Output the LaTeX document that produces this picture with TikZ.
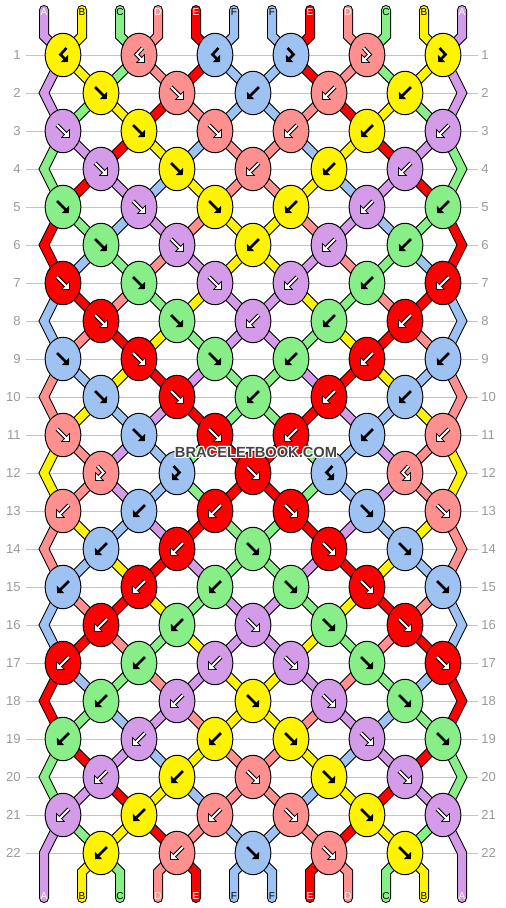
\documentclass[tikz,border=0pt]{standalone}
\usepackage{fontspec}
\setmainfont{Liberation Sans}
\usetikzlibrary{shapes.geometric,arrows.meta}

\definecolor{colA}{HTML}{D49BE8}
\definecolor{colB}{HTML}{FFF400}
\definecolor{colC}{HTML}{88EE88}
\definecolor{colD}{HTML}{FF9090}
\definecolor{colE}{HTML}{FF0000}
\definecolor{colF}{HTML}{9EC2F2}
\definecolor{rulegray}{HTML}{C4C4C4}
\definecolor{numgray}{HTML}{9A9A9A}
\definecolor{markgray}{HTML}{444444}

% ink of arrows and letters on each thread colour
\def\inkA{white}\def\inkB{black}\def\inkC{black}
\def\inkD{white}\def\inkE{white}\def\inkF{black}
\def\whiteink{white}

\pgfdeclarelayer{rules}
\pgfdeclarelayer{threads}
\pgfsetlayers{rules,threads,main}

\tikzset{
	thread/.style={draw=black, line width=0.75pt, double=#1, double distance=6pt, line cap=round, line join=miter},
	knot/.style={ellipse, draw=black, line width=0.75pt, fill=#1, minimum width=26.8pt, minimum height=32.6pt, inner sep=0pt},
	rownum/.style={text=numgray, inner sep=0pt, font=\fontsize{9.8}{10}\selectfont},
	endlabel/.style={inner sep=0pt, font=\fontsize{7.5}{8}\selectfont},
	wmark/.style={inner sep=0pt, font=\fontsize{11}{12}\selectfont\bfseries},
	glyph/.style={black, line width=2pt, -{Triangle[length=3.8pt,width=7.4pt]}},
	glyphrim/.style={black, line width=3pt, shorten >=-0.9pt, -{Triangle[length=4.8pt,width=9.4pt]}},
	glyphcore/.style={white, line width=1.5pt, -{Triangle[length=3.2pt,width=6.2pt]}},
}

% arrow of a knot, kind in \kind
\newcommand\glyphstroke[1]{%
	\if\kind f\draw[#1] (-6,-6) -- (6,6);\fi
	\if\kind b\draw[#1] (6,-6) -- (-6,6);\fi
	\if\kind F\draw[#1] (-3.5,-7) -- (2.5,-0.5) -- (-5,7);\fi
	\if\kind B\draw[#1] (3.5,-7) -- (-2.5,-0.5) -- (5,7);\fi
}

\begin{document}
\begin{tikzpicture}[x=0.75pt, y=-0.75pt]
	\useasboundingbox (0,0) rectangle (506,908);

	% thread ends on top
	\foreach \thr [count=\pos] in {A,B,C,D,E,F,F,E,D,C,B,A} {
		\pgfmathsetmacro\xx{44+38*(\pos-1)}
		\edef\ink{\csname ink\thr\endcsname}
		\coordinate (top-\pos) at (\xx,10);
		\coordinate (topbend-\pos) at (\xx,36);
		\node[endlabel, text=\ink] (toplabel-\pos) at (\xx,12) {\thr};
		\expandafter\xdef\csname th\pos\endcsname{\thr}
		\expandafter\xdef\csname trail\pos\endcsname{(top-\pos) -- (topbend-\pos)}
	}

	% knots row by row: f forward, b backward, F forward-backward, B backward-forward
	\foreach \kinds [count=\row] in {{B,B,B,F,F,F},{f,f,b,b,b},{f,f,f,b,b,b},{f,f,b,b,b},
		{f,f,f,b,b,b},{f,f,b,b,b},{f,f,f,b,b,b},{f,f,b,b,b},{f,f,f,b,b,b},{f,f,b,b,b},
		{f,f,f,b,b,b},{F,F,f,B,B},{b,b,b,f,f,f},{b,b,f,f,f},{b,b,b,f,f,f},{b,b,f,f,f},
		{b,b,b,f,f,f},{b,b,f,f,f},{b,b,b,f,f,f},{b,b,f,f,f},{b,b,b,f,f,f},{b,b,f,f,f}} {
		\pgfmathsetmacro\yy{55+38*(\row-1)}
		\pgfmathtruncatemacro\odd{mod(\row,2)}
		\begin{pgfonlayer}{rules}
			\draw[rulegray, line width=0.75pt] (26,\yy) -- (478,\yy);
		\end{pgfonlayer}
		\node[rownum, anchor=east] (numl-\row) at (21,\yy) {\row};
		\node[rownum, anchor=west] (numr-\row) at (481,\yy) {\row};
		\ifnum\odd=0
			\coordinate (edge-\row-1) at (44,\yy);
			\coordinate (edge-\row-12) at (462,\yy);
			\expandafter\xdef\csname trail1\endcsname{\csname trail1\endcsname\space -- (edge-\row-1)}
			\expandafter\xdef\csname trail12\endcsname{\csname trail12\endcsname\space -- (edge-\row-12)}
		\fi
		\foreach \kind [count=\kn] in \kinds {
			\pgfmathtruncatemacro\jl{\odd==1 ? 2*\kn-1 : 2*\kn}
			\pgfmathtruncatemacro\jr{\jl+1}
			\pgfmathsetmacro\xx{63+38*(\jl-1)}
			\edef\lc{\csname th\jl\endcsname}
			\edef\rc{\csname th\jr\endcsname}
			\if\kind b\edef\kc{\rc}\else\if\kind B\edef\kc{\rc}\else\edef\kc{\lc}\fi\fi
			\edef\ink{\csname ink\kc\endcsname}
			\node[knot=col\kc] (k-\row-\kn) at (\xx,\yy) {};
			\begin{pgfonlayer}{threads}
				\edef\tmp{\noexpand\draw[thread=col\lc] \csname trail\jl\endcsname\space -- (k-\row-\kn.center);
					\noexpand\draw[thread=col\rc] \csname trail\jr\endcsname\space -- (k-\row-\kn.center);}
				\tmp
			\end{pgfonlayer}
			\expandafter\xdef\csname trail\jl\endcsname{(k-\row-\kn.center)}
			\expandafter\xdef\csname trail\jr\endcsname{(k-\row-\kn.center)}
			\if\kind f\def\doswap{1}\else\if\kind b\def\doswap{1}\else\def\doswap{0}\fi\fi
			\ifnum\doswap=1
				\expandafter\xdef\csname th\jl\endcsname{\rc}
				\expandafter\xdef\csname th\jr\endcsname{\lc}
			\fi
			\begin{scope}[shift={(k-\row-\kn.center)}]
				\ifx\ink\whiteink
					\glyphstroke{glyphrim}\glyphstroke{glyphcore}
				\else
					\glyphstroke{glyph}
				\fi
			\end{scope}
		}
	}

	% thread ends at the bottom
	\foreach \thr [count=\pos] in {A,B,C,D,E,F,F,E,D,C,B,A} {
		\pgfmathsetmacro\xx{44+38*(\pos-1)}
		\edef\ink{\csname ink\thr\endcsname}
		\edef\tc{\csname th\pos\endcsname}
		\coordinate (botbend-\pos) at (\xx,872);
		\coordinate (bot-\pos) at (\xx,898);
		\begin{pgfonlayer}{threads}
			\edef\tmp{\noexpand\draw[thread=col\tc] \csname trail\pos\endcsname\space -- (botbend-\pos) -- (bot-\pos);}
			\tmp
		\end{pgfonlayer}
		\node[endlabel, text=\ink] (botlabel-\pos) at (\xx,896) {\thr};
	}

	% watermark with a light halo
	\foreach \dx/\dy [count=\n] in {-1/0,1/0,0/-1,0/1,-1/-1,1/1,-1/1,1/-1}
		\node[wmark, text=white] (halo-\n) at (256+\dx,452+\dy) {BRACELETBOOK.COM};
	\node[wmark, text=markgray] (mark) at (256,452) {BRACELETBOOK.COM};
\end{tikzpicture}
\end{document}
